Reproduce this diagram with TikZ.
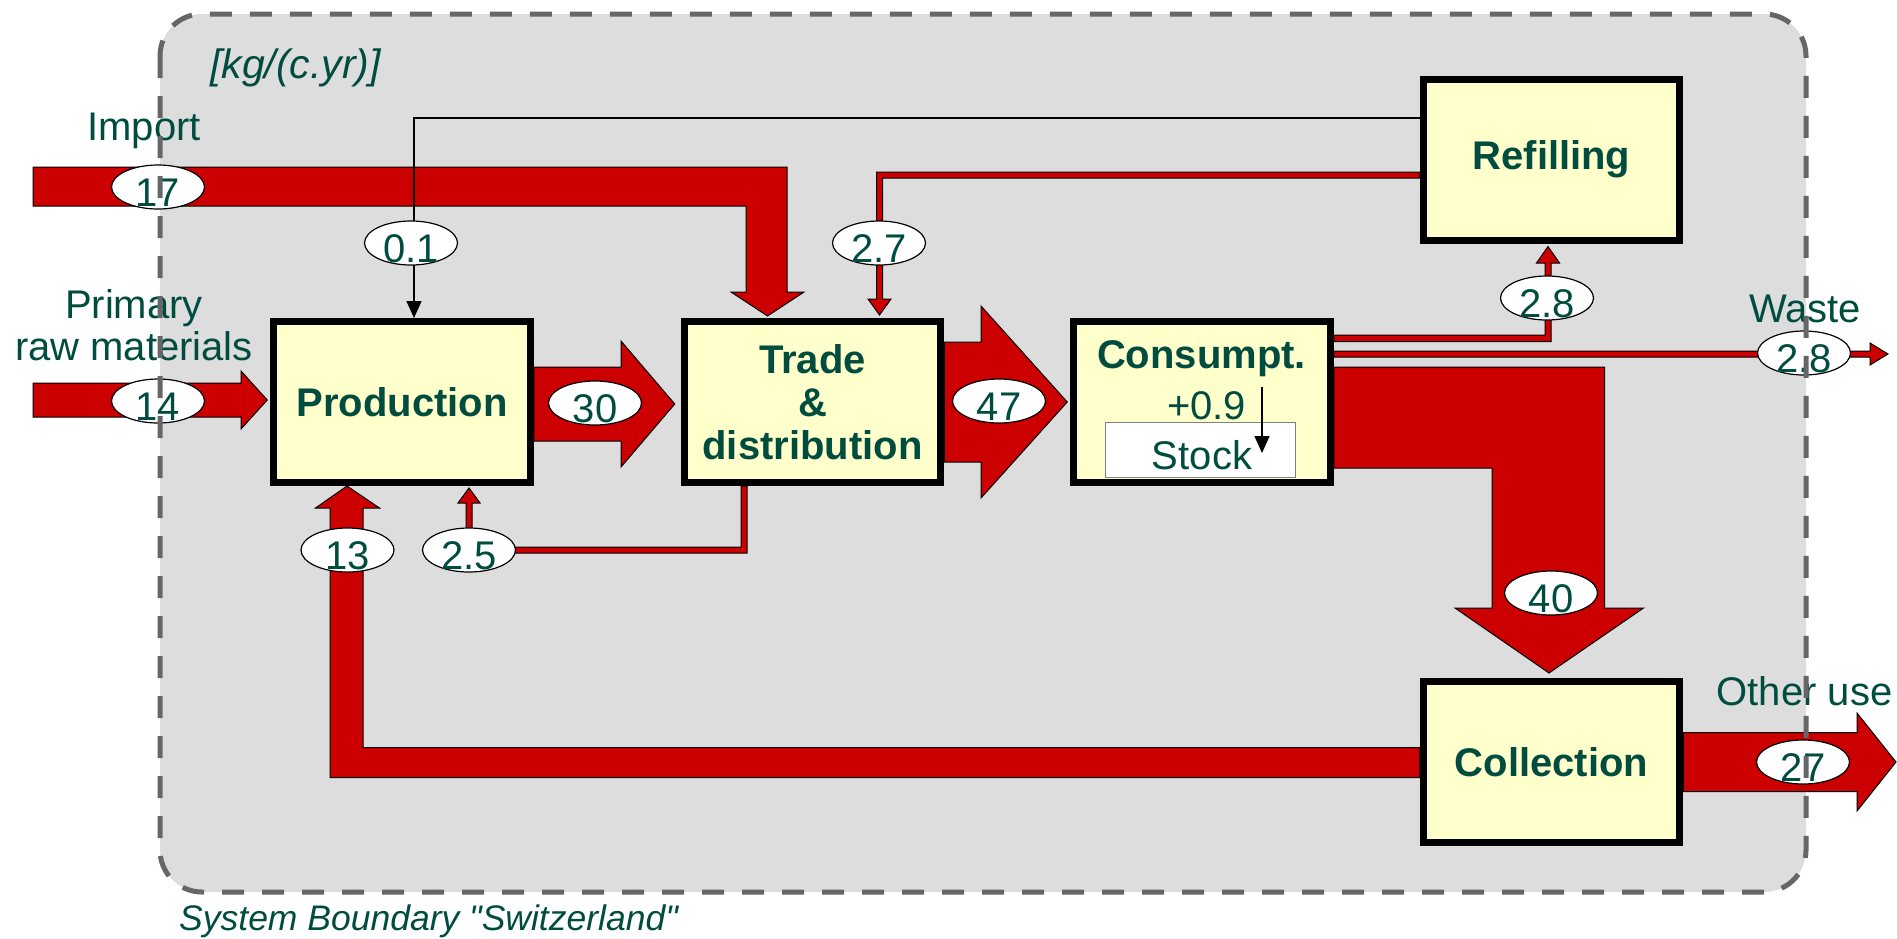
\documentclass[tikz,border=0pt]{standalone}
\usepackage{fontspec}
\setmainfont{Liberation Sans}[Ligatures=TeXOff]
\usetikzlibrary{shapes.geometric,arrows.meta,calc}

\definecolor{labelgreen}{RGB}{0,77,64}
\definecolor{flowred}{RGB}{204,0,0}
\definecolor{procfill}{RGB}{255,255,204}
\definecolor{areagray}{RGB}{221,221,221}
\definecolor{edgegray}{RGB}{102,102,102}

\pgfdeclarelayer{backdrop}
\pgfdeclarelayer{flowlayer}
\pgfdeclarelayer{frontlayer}
\pgfsetlayers{backdrop,flowlayer,main,frontlayer}

\newcommand\regsize{\fontsize{40pt}{42pt}\selectfont}
\newcommand\boldsize{\fontsize{40pt}{43pt}\selectfont\bfseries}
% flow values sit a little below the centre of their ellipse
\newcommand\flowval[1]{\smash{\raisebox{-19pt}{#1}}}

\tikzset{
  process/.style={draw=black, line width=7pt, fill=procfill,
    minimum width=256.5pt, minimum height=161pt, inner sep=0pt,
    text=labelgreen, font=\boldsize, align=center},
  value/.style={ellipse, draw=black, line width=1.2pt, fill=white,
    minimum width=93pt, minimum height=44pt, inner sep=0pt,
    text=labelgreen, font=\regsize},
  tag/.style={inner sep=0pt, text=labelgreen, font=\regsize, align=center},
  flow/.style={fill=flowred, draw=black, line width=1pt, line join=miter},
  infoline/.style={draw=black, line width=1.4pt,
    -{Triangle[length=17pt,width=15pt]}},
}

\begin{document}
\begin{tikzpicture}[x=1pt,y=-1pt]
\useasboundingbox (0,0) rectangle (1897,938);

% system boundary area
\begin{pgfonlayer}{backdrop}
  \fill[areagray, rounded corners=42pt] (160,14) rectangle (1806,892);
\end{pgfonlayer}

% processes
\node[process] (prod)   at (402,402)      {Production};
\node[process] (trade)  at (812.5,402)    {Trade\\\&\\distribution};
\node[process] (cons)   at (1202,402)     {};
\node[process] (refill) at (1551.5,159.5) {Refilling};
\node[process] (coll)   at (1551.5,762)   {Collection};

% consumption with its stock
\node[tag, font=\boldsize] (constitle) at (1201.5,359) {Consumpt.};
\node[tag] (gain) at (1206.5,406) {+0.9};
\node[draw=gray, line width=1pt, fill=white, minimum width=190pt,
      minimum height=54.6pt, inner sep=0pt] (stock) at (1200,450) {};
\node[tag] (stocktext) at (1202,455) {Stock};
\coordinate (stockin) at (1262,387);
\draw[infoline] (stockin) -- (stockin |- stock.center) -- ++(0,3);

% labels
\node[tag, anchor=west, font=\fontsize{41pt}{43pt}\selectfont\itshape]
  (unit) at (210,68) {[kg/(c.yr)]};
\node[tag] (import) at (144,131) {Import};
\node[tag] (primary) at (134,325) {Primary\\raw materials};
\node[tag] (waste) at (1805,309) {Waste};
\node[tag] (otheruse) at (1804.5,691) {Other use};
\node[tag, anchor=west, font=\fontsize{35.5pt}{38pt}\selectfont\itshape]
  (sysname) at (179,921) {System Boundary "Switzerland"};

% material flows
\begin{pgfonlayer}{flowlayer}
  % import into trade
  \filldraw[flow] (33,167) -- (787,167) -- (787,292) -- (804,292)
    -- ($(trade.north)+(-45,-2)$) -- (731,292) -- (746,292)
    -- (746,206) -- (33,206) -- cycle;
  % primary raw materials
  \filldraw[flow] (33,383) -- (241,383) -- (241,371)
    -- ($(prod.west)+(-3,-2)$) -- (241,429) -- (241,417) -- (33,417) -- cycle;
  % production to trade
  \filldraw[flow] ($(prod.east)+(0,-35)$) -- (621,367) -- (621,341)
    -- ($(trade.west)+(-6,2)$) -- (621,467) -- (621,441)
    -- ($(prod.east)+(0,39)$) -- cycle;
  % trade to consumption
  \filldraw[flow] ($(trade.east)+(0,-60)$) -- (981,342) -- (981,306)
    -- ($(cons.west)+(-3,0)$) -- (981,498) -- (981,462)
    -- ($(trade.east)+(0,60)$) -- cycle;
  % consumption to collection
  \filldraw[flow] ($(cons.east)+(0,-35)$) -- (1604.5,367) -- (1604.5,608)
    -- (1643.5,608) -- ($(coll.north)+(-2.5,-5)$) -- (1455,608)
    -- (1492,608) -- (1492,468) -- ($(cons.east)+(0,66)$) -- cycle;
  % collection to other use
  \filldraw[flow] ($(coll.east)+(0,-29.5)$) -- (1857,732.5) -- (1857,713)
    -- (1896,762) -- (1857,811) -- (1857,791.5)
    -- ($(coll.east)+(0,29.5)$) -- cycle;
  % collection back to production
  \filldraw[flow] ($(coll.west)+(0,-14.5)$) -- (363,747.5) -- (363,508)
    -- (379.5,508) -- ($(prod.south)+(-55,0)$) -- (315.5,508)
    -- (330,508) -- (330,777.5) -- ($(coll.west)+(0,15.5)$) -- cycle;
  % trade back to production
  \filldraw[flow] ($(trade.south)+(-71.5,0)$) -- (741,547) -- (472,547)
    -- (472,503) -- (480,503) -- ($(prod.south)+(67,2)$) -- (458,503)
    -- (466,503) -- (466,553) -- (747,553) -- ($(trade.south)+(-65.5,0)$) -- cycle;
  % refilling to trade
  \filldraw[flow] ($(refill.west)+(0,12.5)$) -- (876.5,172) -- (876.5,299)
    -- (868,299) -- ($(trade.north)+(67,-3)$) -- (891,299) -- (882.5,299)
    -- (882.5,178) -- ($(refill.west)+(0,18.5)$) -- cycle;
  % consumption to refilling
  \filldraw[flow] ($(cons.east)+(0,-67)$) -- (1545,335) -- (1545,263)
    -- (1536.5,263) -- ($(refill.south)+(-3.5,3)$) -- (1559.5,263)
    -- (1551,263) -- (1551,341.5) -- ($(cons.east)+(0,-60.5)$) -- cycle;
  % consumption to waste
  \filldraw[flow] ($(cons.east)+(0,-51)$) -- (1870,351) -- (1870,343)
    -- (1888,354) -- (1870,365) -- (1870,357)
    -- ($(cons.east)+(0,-45)$) -- cycle;
  % refilling to production
  \coordinate (bend) at (414,118);
  \draw[infoline] (refill.west |- bend) -- (bend) -- (bend |- prod.north);
\end{pgfonlayer}

% flow values
\node[value] (v17)  at (158,187)   {\flowval{17}};
\node[value] (v14)  at (158,401)   {\flowval{14}};
\node[value] (v01)  at (411,243)   {\flowval{0.1}};
\node[value] (v30)  at (595,403)   {\flowval{30}};
\node[value] (v27a) at (879,243)   {\flowval{2.7}};
\node[value] (v47)  at (999,401)   {\flowval{47}};
\node[value] (v28r) at (1547,298)  {\flowval{2.8}};
\node[value] (v28w) at (1804,353)  {\flowval{2.8}};
\node[value] (v40)  at (1551,593)  {\flowval{40}};
\node[value] (v27)  at (1803,762)  {\flowval{27}};
\node[value] (v13)  at (347.5,550) {\flowval{13}};
\node[value] (v25)  at (469,550)   {\flowval{2.5}};

% dashed system boundary
\begin{pgfonlayer}{frontlayer}
  \draw[edgegray, line width=5pt, dash pattern=on 22pt off 18pt,
        rounded corners=42pt] (160,14) rectangle (1806,892);
\end{pgfonlayer}
\end{tikzpicture}
\end{document}
